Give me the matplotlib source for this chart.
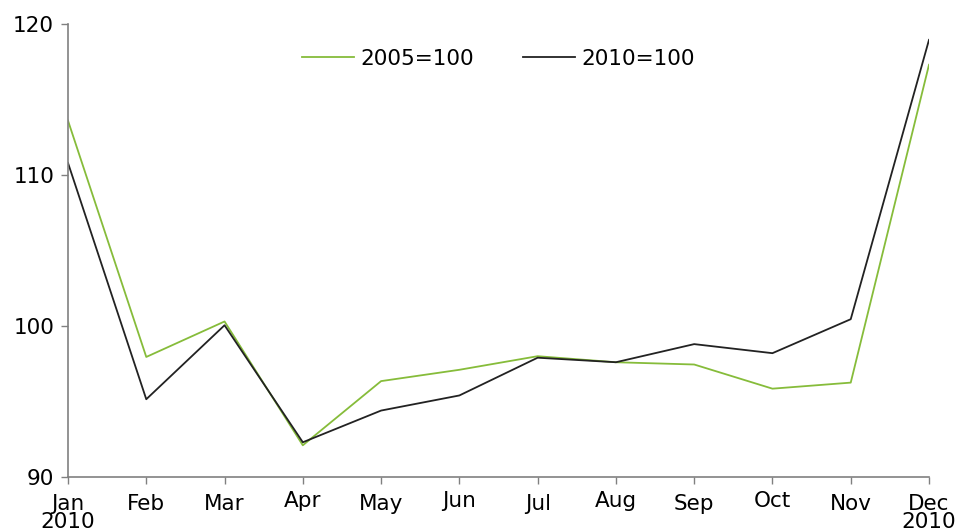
import matplotlib
matplotlib.use("Agg")
import matplotlib.pyplot as plt
import matplotlib.transforms as mtransforms

months = ["Jan\n2010", "Feb", "Mar", "Apr", "May", "Jun", "Jul", "Aug", "Sep", "Oct", "Nov", "Dec\n2010"]
base2005 = [113.6, 97.95, 100.3, 92.1, 96.35, 97.1, 98.0, 97.6, 97.45, 95.85, 96.25, 117.3]
base2010 = [110.8, 95.15, 100.05, 92.3, 94.4, 95.4, 97.9, 97.6, 98.8, 98.2, 100.45, 118.95]
yticks = [90, 100, 110, 120]

plt.rcParams['font.family'] = ['DejaVu Sans']
fs = 15.5
fig = plt.figure(figsize=(9.55, 5.32), dpi=100)
ax = fig.add_axes([68/955, 1-477/532, (929-68)/955, (477-24)/532])

x = list(range(len(months)))
ax.plot(x, base2005, color="#86bc3a", lw=1.3, label="2005=100")
ax.plot(x, base2010, color="#222222", lw=1.3, label="2010=100")

ax.set_xlim(0, len(months)-1)
ax.set_ylim(90, 120)
ax.set_yticks(yticks)
ax.set_xticks(x)
ax.set_xticklabels(months, fontsize=fs, linespacing=0.9)
ax.tick_params(axis='y', labelsize=fs, length=5, width=1, color="#808080", pad=5)
ax.tick_params(axis='x', length=5, width=1, color="#808080", pad=7)

for i, lab in enumerate(ax.get_xticklabels()):
    if i in (3, 5, 7, 9):
        lab.set_transform(lab.get_transform() + mtransforms.ScaledTranslation(0, 3/100, fig.dpi_scale_trans))

for s in ("top", "right"):
    ax.spines[s].set_visible(False)
for s in ("left", "bottom"):
    ax.spines[s].set_color("#808080")
    ax.spines[s].set_linewidth(1.2)

ax.legend(loc="center", bbox_to_anchor=(0.5, 0.923), ncol=2, frameon=False,
          fontsize=fs, handlelength=2.4, columnspacing=2.3, handletextpad=0.3)

fig.savefig("out.png", dpi=100)
